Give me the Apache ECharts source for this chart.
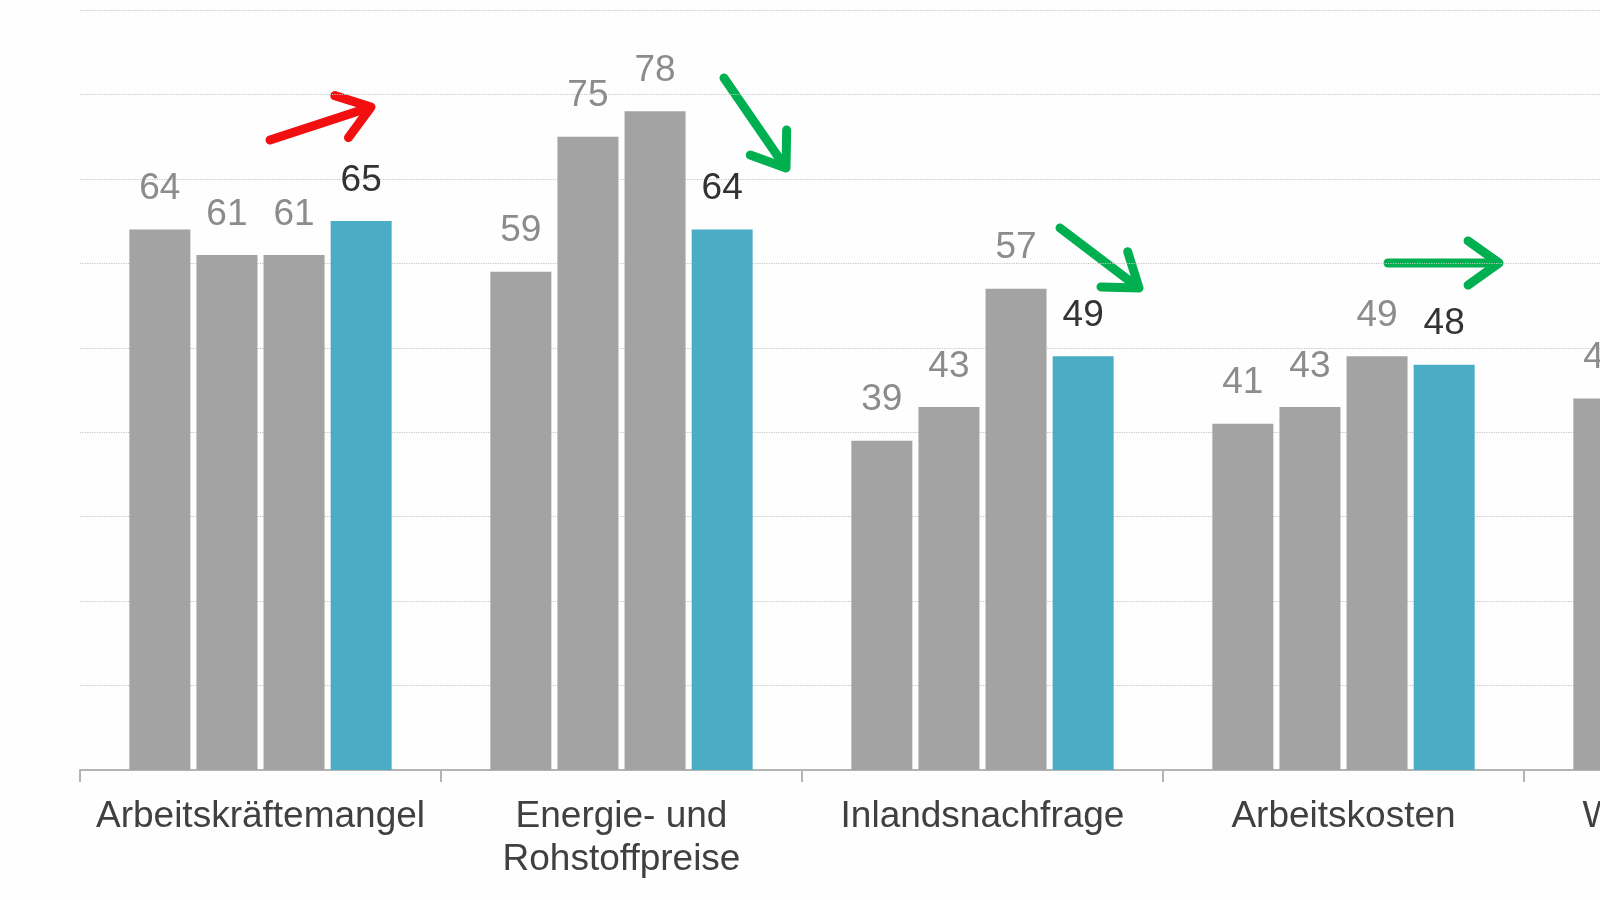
<!DOCTYPE html>
<html>
<head>
<meta charset="utf-8">
<script src="https://cdn.jsdelivr.net/npm/echarts@6/dist/echarts.min.js"></script>
<style>
html,body{margin:0;padding:0;background:#fefefe;overflow:hidden;width:1600px;height:900px;}
#chart{width:1900px;height:900px;}
</style>
</head>
<body>
<div id="chart"></div>
<script>
// Data
const categories = ['Arbeitskräftemangel', 'Energie- und\nRohstoffpreise', 'Inlandsnachfrage', 'Arbeitskosten', 'Weltkonjunktur'];
const series1 = [64, 59, 39, 41, 44];
const series2 = [61, 75, 43, 43, null];
const series3 = [61, 78, 57, 49, null];
const series4 = [65, 64, 49, 48, null];
const yTicks = [0, 10, 20, 30, 40, 50, 60, 70, 80, 90];

// Trend arrows (annotations): [x1, y1, x2, y2, color]
const arrows = [
  [270, 140, 371, 107, '#f20f0f'],
  [724, 78, 786, 168, '#00b050'],
  [1060, 228, 1139, 288, '#00b050'],
  [1388, 263, 1499, 263, '#00b050']
];

const GRAY = '#a3a3a3';
const BLUE = '#4bacc6';

function mkSeries(name, data, color, labelColor) {
  return {
    name: name,
    type: 'bar',
    data: data,
    barWidth: 61,
    barGap: '10%',
    itemStyle: { color: color },
    label: {
      show: true,
      position: 'top',
      distance: 22,
      color: labelColor,
      fontSize: 37,
      fontFamily: 'Liberation Sans, Arial, sans-serif'
    },
    silent: true,
    animation: false
  };
}

function arrowGraphics() {
  const g = [];
  arrows.forEach(a => {
    const [x1, y1, x2, y2, c] = a;
    const ang = Math.atan2(y2 - y1, x2 - x1);
    const L = 38, spread = 0.62;
    const w1 = [x2 - L * Math.cos(ang - spread), y2 - L * Math.sin(ang - spread)];
    const w2 = [x2 - L * Math.cos(ang + spread), y2 - L * Math.sin(ang + spread)];
    const st = { stroke: c, lineWidth: 9, lineCap: 'round', lineJoin: 'round', fill: null };
    g.push({ type: 'polyline', shape: { points: [[x1, y1], [x2 - 4 * Math.cos(ang), y2 - 4 * Math.sin(ang)]] }, style: st, silent: true });
    g.push({ type: 'polyline', shape: { points: [w1, [x2, y2], w2] }, style: st, silent: true });
  });
  return g;
}

const chart = echarts.init(document.getElementById('chart'));
chart.setOption({
  backgroundColor: '#fefefe',
  animation: false,
  grid: { left: 80, top: 10, width: 1805, height: 760, containLabel: false },
  xAxis: {
    type: 'category',
    data: categories,
    axisLine: { show: true, lineStyle: { color: '#b4b4b4', width: 2 } },
    axisTick: { show: true, length: 12, lineStyle: { color: '#b4b4b4', width: 2 } },
    axisLabel: {
      color: '#404040',
      fontSize: 37,
      lineHeight: 43,
      margin: 25,
      interval: 0,
      fontFamily: 'Liberation Sans, Arial, sans-serif'
    }
  },
  yAxis: {
    type: 'value',
    min: yTicks[0],
    max: yTicks[yTicks.length - 1],
    interval: 10,
    axisLabel: { show: false },
    axisLine: { show: false },
    axisTick: { show: false },
    splitLine: { show: true, lineStyle: { color: '#c4c4c4', type: 'dotted', width: 1.2 } }
  },
  series: [
    mkSeries('1', series1, GRAY, '#8c8c8c'),
    mkSeries('2', series2, GRAY, '#8c8c8c'),
    mkSeries('3', series3, GRAY, '#8c8c8c'),
    mkSeries('4', series4, BLUE, '#333333')
  ],
  graphic: arrowGraphics()
});
</script>
</body>
</html>
